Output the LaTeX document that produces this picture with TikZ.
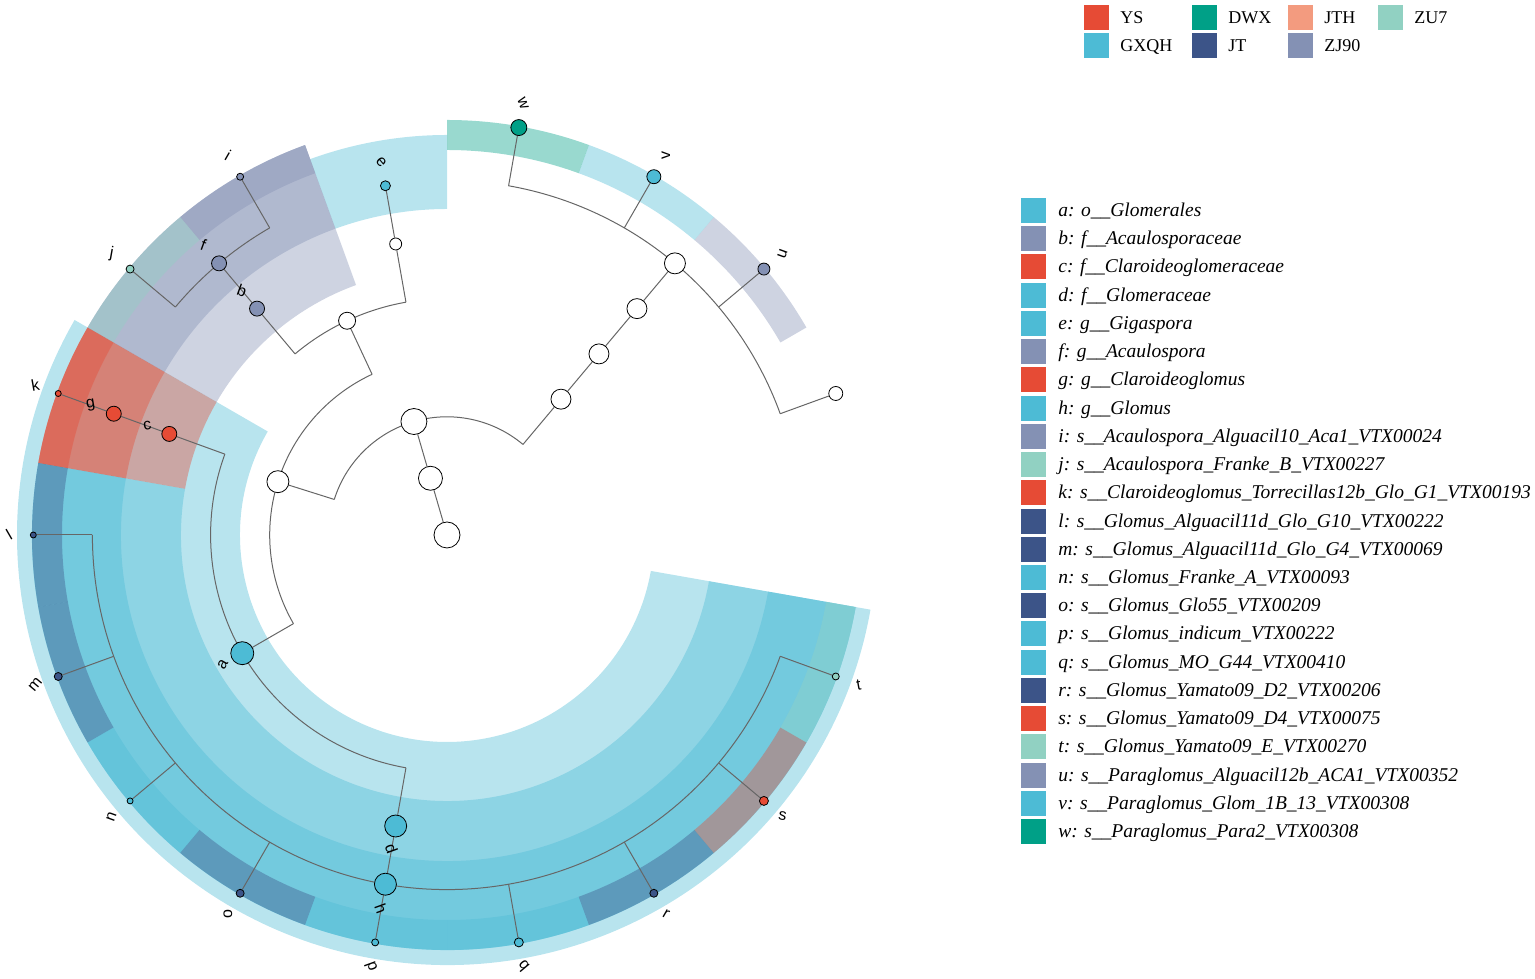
\documentclass[tikz,border=0pt]{standalone}
\usepackage{fontspec}
\setmainfont{Liberation Serif}
\newfontfamily\lblfont{Liberation Sans}
\pgfdeclarelayer{bg}\pgfdeclarelayer{mid}\pgfsetlayers{bg,mid,main}
\definecolor{cYS}{HTML}{E64B35}
\definecolor{cGX}{HTML}{4DBBD5}
\definecolor{cDW}{HTML}{00A087}
\definecolor{cJT}{HTML}{3C5488}
\definecolor{cJH}{HTML}{F39B7F}
\definecolor{cZJ}{HTML}{8491B4}
\definecolor{cZU}{HTML}{91D1C2}
\definecolor{treegray}{HTML}{666666}
\newcommand{\mysect}[5]{\fill[#1,fill opacity=0.4] (#2:#4) arc[start angle=#2,end angle=#3,radius=#4] -- (#3:#5) arc[start angle=#3,end angle=#2,radius=#5] -- cycle;}
\begin{document}
\begin{tikzpicture}[x=1pt,y=1pt,
  cn/.style={circle,draw=black,line width=0.8pt,inner sep=0pt,minimum size=#1},
  tree/.style={draw=treegray,line width=1pt},
  lbl/.style={font=\lblfont\fontsize{16}{16}\selectfont,inner sep=0pt},
  leg/.style={font=\fontsize{19.5}{22}\selectfont\itshape,anchor=base west,inner sep=0pt},
  tleg/.style={font=\fontsize{18}{20}\selectfont,anchor=base west,inner sep=0pt},
  sq/.style={minimum width=25pt,minimum height=25pt,inner sep=0pt}]
\useasboundingbox (0,0) rectangle (1535,979);
\begin{scope}[shift={(447,444)}]
% ---- nodes ----
\node[cn=26pt,fill=white] (root) at (0,0) {};
\node[cn=24pt,fill=white] (p1) at (106.25:59.1) {};
\node[cn=26pt,fill=white] (p2) at (106.25:118.2) {};
\node[cn=22pt,fill=white] (cl) at (162.5:177.3) {};
\node[cn=20pt,fill=white] (po) at (50:177.3) {};
\node[cn=17pt,fill=white] (div) at (115:236.4) {};
\node[cn=20pt,fill=white] (pf) at (50:236.4) {};
\node[cn=12pt,fill=white] (gig) at (100:295.5) {};
\node[cn=20pt,fill=white] (pgn) at (50:295.5) {};
\node[cn=21pt,fill=white] (pg) at (50:354.6) {};
\node[cn=14pt,fill=white] (unn) at (20:413.7) {};
\node[cn=23pt,fill=cGX] (a) at (210:236.4) {};
\node[cn=15pt,fill=cZJ] (b) at (130:295.5) {};
\node[cn=15pt,fill=cYS] (c) at (160:295.5) {};
\node[cn=22pt,fill=cGX] (d) at (260:295.5) {};
\node[cn=10pt,fill=cGX] (e) at (100:354.6) {};
\node[cn=15pt,fill=cZJ] (f) at (130:354.6) {};
\node[cn=15pt,fill=cYS] (g) at (160:354.6) {};
\node[cn=22pt,fill=cGX] (h) at (260:354.6) {};
\node[cn=7pt,fill=cZJ] (i) at (120:413.7) {};
\node[cn=8pt,fill=cZU] (j) at (140:413.7) {};
\node[cn=6pt,fill=cYS] (k) at (160:413.7) {};
\node[cn=6pt,fill=cJT] (l) at (180:413.7) {};
\node[cn=8pt,fill=cJT] (m) at (200:413.7) {};
\node[cn=6pt,fill=cGX] (n) at (220:413.7) {};
\node[cn=8pt,fill=cJT] (o) at (240:413.7) {};
\node[cn=7pt,fill=cGX] (p) at (260:413.7) {};
\node[cn=9pt,fill=cGX] (q) at (280:413.7) {};
\node[cn=8pt,fill=cJT] (r) at (300:413.7) {};
\node[cn=9pt,fill=cYS] (s) at (320:413.7) {};
\node[cn=7pt,fill=cZU] (t) at (340:413.7) {};
\node[cn=12pt,fill=cZJ] (u) at (40:413.7) {};
\node[cn=14pt,fill=cGX] (v) at (60:413.7) {};
\node[cn=16pt,fill=cDW] (w) at (80:413.7) {};
% ---- sectors ----
\begin{pgfonlayer}{bg}
\mysect{cGX}{150}{350}{207}{430}
\mysect{cGX}{170}{350}{266}{415}
\mysect{cYS}{150}{170}{266}{415}
\mysect{cZJ}{110}{150}{266}{415}
\mysect{cGX}{170}{350}{326}{415}
\mysect{cYS}{150}{170}{326}{415}
\mysect{cZJ}{110}{150}{326}{415}
\mysect{cGX}{90}{110}{326}{400}
\mysect{cZJ}{110}{130}{385}{415}
\mysect{cZU}{130}{150}{385}{415}
\mysect{cYS}{150}{170}{385}{415}
\mysect{cJT}{170}{190}{385}{415}
\mysect{cJT}{190}{210}{385}{415}
\mysect{cGX}{210}{230}{385}{415}
\mysect{cJT}{230}{250}{385}{415}
\mysect{cGX}{250}{270}{385}{415}
\mysect{cGX}{270}{290}{385}{415}
\mysect{cJT}{290}{310}{385}{415}
\mysect{cYS}{310}{330}{385}{415}
\mysect{cZU}{330}{350}{385}{415}
\mysect{cZJ}{30}{50}{385}{415}
\mysect{cGX}{50}{70}{385}{415}
\mysect{cDW}{70}{90}{385}{415}
\end{pgfonlayer}
% ---- tree ----
\begin{pgfonlayer}{mid}
\draw[tree] (root) -- (p1);
\draw[tree] (p1) -- (p2);
\draw[tree] (50:118.2) arc[start angle=50,end angle=162.5,radius=118.2];
\draw[tree] (162.5:118.2) -- (cl);
\draw[tree] (50:118.2) -- (po);
\draw[tree] (115:177.3) arc[start angle=115,end angle=210,radius=177.3];
\draw[tree] (115:177.3) -- (div);
\draw[tree] (210:177.3) -- (a);
\draw[tree] (100:236.4) arc[start angle=100,end angle=130,radius=236.4];
\draw[tree] (100:236.4) -- (gig);
\draw[tree] (130:236.4) -- (b);
\draw[tree] (gig) -- (e);
\draw[tree] (b) -- (f);
\draw[tree] (120:354.6) arc[start angle=120,end angle=140,radius=354.6];
\draw[tree] (120:354.6) -- (i);
\draw[tree] (140:354.6) -- (j);
\draw[tree] (160:236.4) arc[start angle=160,end angle=260,radius=236.4];
\draw[tree] (160:236.4) -- (c);
\draw[tree] (260:236.4) -- (d);
\draw[tree] (c) -- (g);
\draw[tree] (g) -- (k);
\draw[tree] (d) -- (h);
\draw[tree] (180:354.6) arc[start angle=180,end angle=340,radius=354.6];
\foreach \nm/\an in {l/180,m/200,n/220,o/240,p/260,q/280,r/300,s/320,t/340}
  {\draw[tree] (\an:354.6) -- (\nm);}
\draw[tree] (po) -- (pf);
\draw[tree] (pf) -- (pgn);
\draw[tree] (pgn) -- (pg);
\draw[tree] (20:354.6) arc[start angle=20,end angle=80,radius=354.6];
\foreach \nm/\an in {unn/20,u/40,v/60,w/80}
  {\draw[tree] (\an:354.6) -- (\nm);}
\end{pgfonlayer}
% ---- labels ----
\node[lbl,rotate=60] (la) at (210:259) {a};
\node[lbl,rotate=-20] (lb) at (130:319) {b};
\node[lbl,rotate=10] (lc) at (160:319) {c};
\node[lbl,rotate=-70] (ld) at (260:319) {d};
\node[lbl,rotate=-50] (le) at (100:379) {e};
\node[lbl,rotate=-20] (lf) at (130:379) {f};
\node[lbl,rotate=10] (lg) at (160:379) {g};
\node[lbl,rotate=-70] (lh) at (260:379) {h};
\node[lbl,rotate=-30] (li) at (120:438) {i};
\node[lbl,rotate=-10] (lj) at (140:438) {j};
\node[lbl,rotate=10] (lk) at (160:438) {k};
\node[lbl,rotate=30] (ll) at (180:438) {l};
\node[lbl,rotate=50] (lm) at (200:438) {m};
\node[lbl,rotate=70] (ln) at (220:438) {n};
\node[lbl,rotate=90] (lo) at (240:438) {o};
\node[lbl,rotate=-70] (lp) at (260:438) {p};
\node[lbl,rotate=-50] (lq) at (280:438) {q};
\node[lbl,rotate=-30] (lr) at (300:438) {r};
\node[lbl,rotate=-10] (ls) at (320:438) {s};
\node[lbl,rotate=10] (lt) at (340:438) {t};
\node[lbl,rotate=70] (lu) at (40:438) {u};
\node[lbl,rotate=90] (lv) at (60:438) {v};
\node[lbl,rotate=-70] (lw) at (80:438) {w};
\end{scope}
% ---- group legend ----
\foreach \nm/\cx/\cy/\col/\txt in {YS/1096.5/961/cYS/YS, DWX/1204.5/961/cDW/DWX, JTH/1300.5/961/cJH/JTH, ZU/1390.5/961/cZU/ZU7,
  GX/1096.5/933/cGX/GXQH, JT/1204.5/933/cJT/JT, ZJ/1300.5/933/cZJ/ZJ90}
 {\node[sq,fill=\col] (gsq\nm) at (\cx,\cy) {};
  \node[tleg] (gt\nm) at ([xshift=11pt,yshift=-6pt]gsq\nm.east) {\txt};}
% ---- clade legend ----
\foreach \i/\col/\txt in {
 0/cGX/{a: o\_\_Glomerales},
 1/cZJ/{b: f\_\_Acaulosporaceae},
 2/cYS/{c: f\_\_Claroideoglomeraceae},
 3/cGX/{d: f\_\_Glomeraceae},
 4/cGX/{e: g\_\_Gigaspora},
 5/cZJ/{f: g\_\_Acaulospora},
 6/cYS/{g: g\_\_Claroideoglomus},
 7/cGX/{h: g\_\_Glomus},
 8/cZJ/{i: s\_\_Acaulospora\_Alguacil10\_Aca1\_VTX00024},
 9/cZU/{j: s\_\_Acaulospora\_Franke\_B\_VTX00227},
 10/cYS/{k: s\_\_Claroideoglomus\_Torrecillas12b\_Glo\_G1\_VTX00193},
 11/cJT/{l: s\_\_Glomus\_Alguacil11d\_Glo\_G10\_VTX00222},
 12/cJT/{m: s\_\_Glomus\_Alguacil11d\_Glo\_G4\_VTX00069},
 13/cGX/{n: s\_\_Glomus\_Franke\_A\_VTX00093},
 14/cJT/{o: s\_\_Glomus\_Glo55\_VTX00209},
 15/cGX/{p: s\_\_Glomus\_indicum\_VTX00222},
 16/cGX/{q: s\_\_Glomus\_MO\_G44\_VTX00410},
 17/cJT/{r: s\_\_Glomus\_Yamato09\_D2\_VTX00206},
 18/cYS/{s: s\_\_Glomus\_Yamato09\_D4\_VTX00075},
 19/cZU/{t: s\_\_Glomus\_Yamato09\_E\_VTX00270},
 20/cZJ/{u: s\_\_Paraglomus\_Alguacil12b\_ACA1\_VTX00352},
 21/cGX/{v: s\_\_Paraglomus\_Glom\_1B\_13\_VTX00308},
 22/cDW/{w: s\_\_Paraglomus\_Para2\_VTX00308}}
 {\node[sq,fill=\col] (csq\i) at (1033.5,768.5-28.23*\i) {};
  \node[leg] (ct\i) at ([xshift=12pt,yshift=-6pt]csq\i.east) {\txt};}
\end{tikzpicture}
\end{document}
